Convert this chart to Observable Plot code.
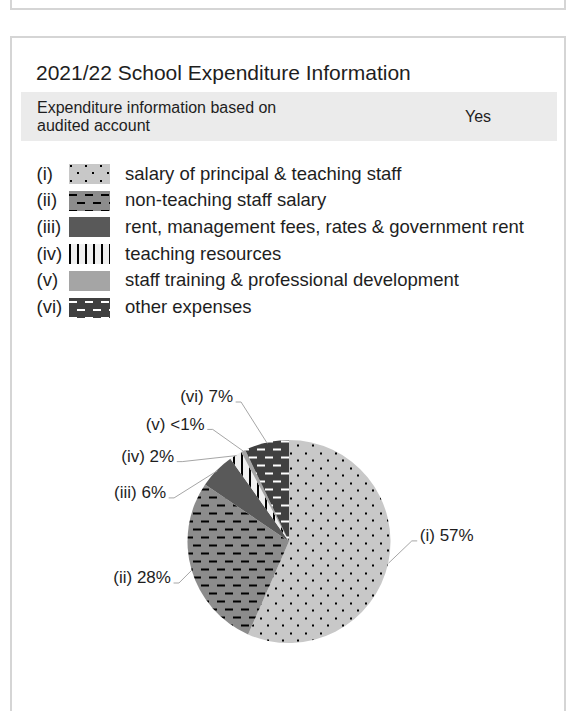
<!DOCTYPE html>
<html><head><meta charset="utf-8">
<script src="https://cdn.jsdelivr.net/npm/d3@7"></script>
<script src="https://cdn.jsdelivr.net/npm/@observablehq/plot@0.6"></script>
<style>
html,body{margin:0;padding:0;background:#fff;}
body{width:573px;height:711px;overflow:hidden;position:relative;font-family:"Liberation Sans",Arial,sans-serif;color:#1e1e1e;}
.box{position:absolute;border:2.5px solid #d5d5d5;box-sizing:border-box;}
.abs{position:absolute;white-space:nowrap;}
#band{position:absolute;left:20.7px;top:91.7px;width:536px;height:49.5px;background:#ebebeb;}
.leg{position:absolute;font-size:18.5px;line-height:26.7px;white-space:nowrap;}
.sw{position:absolute;}
</style></head><body>
<svg width="0" height="0" style="position:absolute;left:0;top:0">
<defs>
<pattern id="pat1" patternUnits="userSpaceOnUse" width="15" height="15">
<rect width="15" height="15" fill="#c8c8c8"/><rect x="1" y="1" width="2" height="2" fill="#000"/><rect x="8" y="8" width="2" height="2" fill="#000"/>
</pattern>
<pattern id="pat2" patternUnits="userSpaceOnUse" width="16" height="16">
<rect width="16" height="16" fill="#8c8c8c"/><rect x="0" y="3" width="8" height="2" fill="#000"/><rect x="8" y="11" width="8" height="2" fill="#000"/>
</pattern>
<pattern id="pat4" patternUnits="userSpaceOnUse" width="8" height="10">
<rect width="8" height="10" fill="#f0f0f0"/><rect x="0" y="0" width="2" height="10" fill="#000"/>
</pattern>
<pattern id="pat6" patternUnits="userSpaceOnUse" width="16" height="16">
<rect width="16" height="16" fill="#404040"/><rect x="0" y="3" width="8" height="2" fill="#fff"/><rect x="8" y="11" width="8" height="2" fill="#fff"/>
</pattern>
</defs>
</svg>
<div class="box" style="left:9.5px;top:-30px;width:556px;height:40px"></div>
<div class="box" style="left:9.5px;top:35.5px;width:556px;height:720px"></div>
<div class="abs" id="title" style="left:36px;top:61.5px;font-size:21px;line-height:21px;"></div>
<div id="band"></div>
<div class="abs" id="bandText" style="left:37px;top:98.6px;font-size:16px;line-height:18.4px;white-space:normal;width:275px;"></div>
<div class="abs" id="bandValue" style="left:465px;top:108px;font-size:16px;line-height:18.4px;"></div>
<div id="legend"></div>
<div id="chart" style="position:absolute;left:0;top:370px;"></div>
<script>
// ---- data ----
const titleText = "2021/22 School Expenditure Information";
const bandLabel = "Expenditure information based on audited account";
const bandValue = "Yes";
const codes = ["(i)", "(ii)", "(iii)", "(iv)", "(v)", "(vi)"];
const categories = [
  "salary of principal & teaching staff",
  "non-teaching staff salary",
  "rent, management fees, rates & government rent",
  "teaching resources",
  "staff training & professional development",
  "other expenses"
];
const shares = [56.6, 27.9, 5.7, 2.0, 0.7, 7.1];
const shareLabels = ["57%", "28%", "6%", "2%", "<1%", "7%"];

// ---- styles / layout ----
const fills = ["url(#pat1)", "url(#pat2)", "#595959", "url(#pat4)", "#a5a5a5", "url(#pat6)"];
// label elbow offsets from slice edge (px), like manually placed data labels
const labelOffsets = [[23, -22], [-13, 13], [-43, 27], [-54, 6], [-31, -22], [-26, -41]];
const pieCenter = [289, 171.5];
const pieRadius = 101.5;

document.getElementById("title").textContent = titleText;
document.getElementById("bandText").textContent = bandLabel;
document.getElementById("bandValue").textContent = bandValue;

// legend
const legend = document.getElementById("legend");
codes.forEach((c, i) => {
  const cy = 174 + i * 26.7;
  const a = document.createElement("div");
  a.className = "leg"; a.style.left = "36.5px"; a.style.top = (cy - 13.35) + "px"; a.textContent = c;
  legend.appendChild(a);
  const s = document.createElementNS("http://www.w3.org/2000/svg", "svg");
  s.setAttribute("class", "sw"); s.setAttribute("width", 41); s.setAttribute("height", 20);
  s.style.left = "69.3px"; s.style.top = (cy - 10) + "px";
  const r = document.createElementNS("http://www.w3.org/2000/svg", "rect");
  r.setAttribute("width", 41); r.setAttribute("height", 20); r.setAttribute("fill", fills[i]);
  s.appendChild(r); legend.appendChild(s);
  const t = document.createElement("div");
  t.className = "leg"; t.style.left = "125px"; t.style.top = (cy - 13.35) + "px"; t.textContent = categories[i];
  legend.appendChild(t);
});

// pie geometry from data
const rows = codes.map((c, i) => ({code: c, category: categories[i], share: shares[i], label: `${c} ${shareLabels[i]}`, fill: fills[i]}));
const arcs = d3.pie().sort(null).value(d => d.share)(rows);
const u = 1 / pieRadius;
const leaders = [];
const labels = [];
arcs.forEach((a, i) => {
  const mid = (a.startAngle + a.endAngle) / 2;
  const ex = Math.sin(mid), ey = Math.cos(mid);
  const [ox, oy] = labelOffsets[i];
  const side = ox > 0 ? 1 : -1;
  const bx = ex + ox * u, by = ey - oy * u;
  const tx = bx + side * 5 * u;
  leaders.push({k: i, x: tx, y: by}, {k: i, x: bx, y: by}, {k: i, x: ex, y: ey});
  labels.push({text: rows[i].label, x: tx + side * 3 * u, y: by, side});
});

function slicesMark(index, scales) {
  const cx = scales.x(0), cy = scales.y(0), r = scales.x(1) - scales.x(0);
  const arc = d3.arc().innerRadius(0).outerRadius(r);
  const g = d3.create("svg:g").attr("transform", `translate(${cx},${cy})`);
  g.selectAll("path").data(arcs).join("path")
    .attr("d", arc)
    .attr("fill", d => d.data.fill);
  return g.node();
}

const chart = Plot.plot({
  width: 573,
  height: 320,
  margin: 0,
  style: {fontFamily: "Liberation Sans, Arial, sans-serif", background: "transparent", overflow: "visible"},
  x: {domain: [-1, 1], range: [pieCenter[0] - pieRadius, pieCenter[0] + pieRadius], axis: null},
  y: {domain: [-1, 1], range: [pieCenter[1] + pieRadius, pieCenter[1] - pieRadius], axis: null},
  marks: [
    slicesMark,
    Plot.line(leaders, {x: "x", y: "y", z: "k", stroke: "#a6a6a6", strokeWidth: 1}),
    Plot.text(labels.filter(d => d.side < 0), {x: "x", y: "y", text: "text", textAnchor: "end", dy: -5, fontSize: 17, fill: "#1e1e1e"}),
    Plot.text(labels.filter(d => d.side > 0), {x: "x", y: "y", text: "text", textAnchor: "start", dy: -5, fontSize: 17, fill: "#1e1e1e"})
  ]
});
document.getElementById("chart").appendChild(chart);
</script>
</body></html>
